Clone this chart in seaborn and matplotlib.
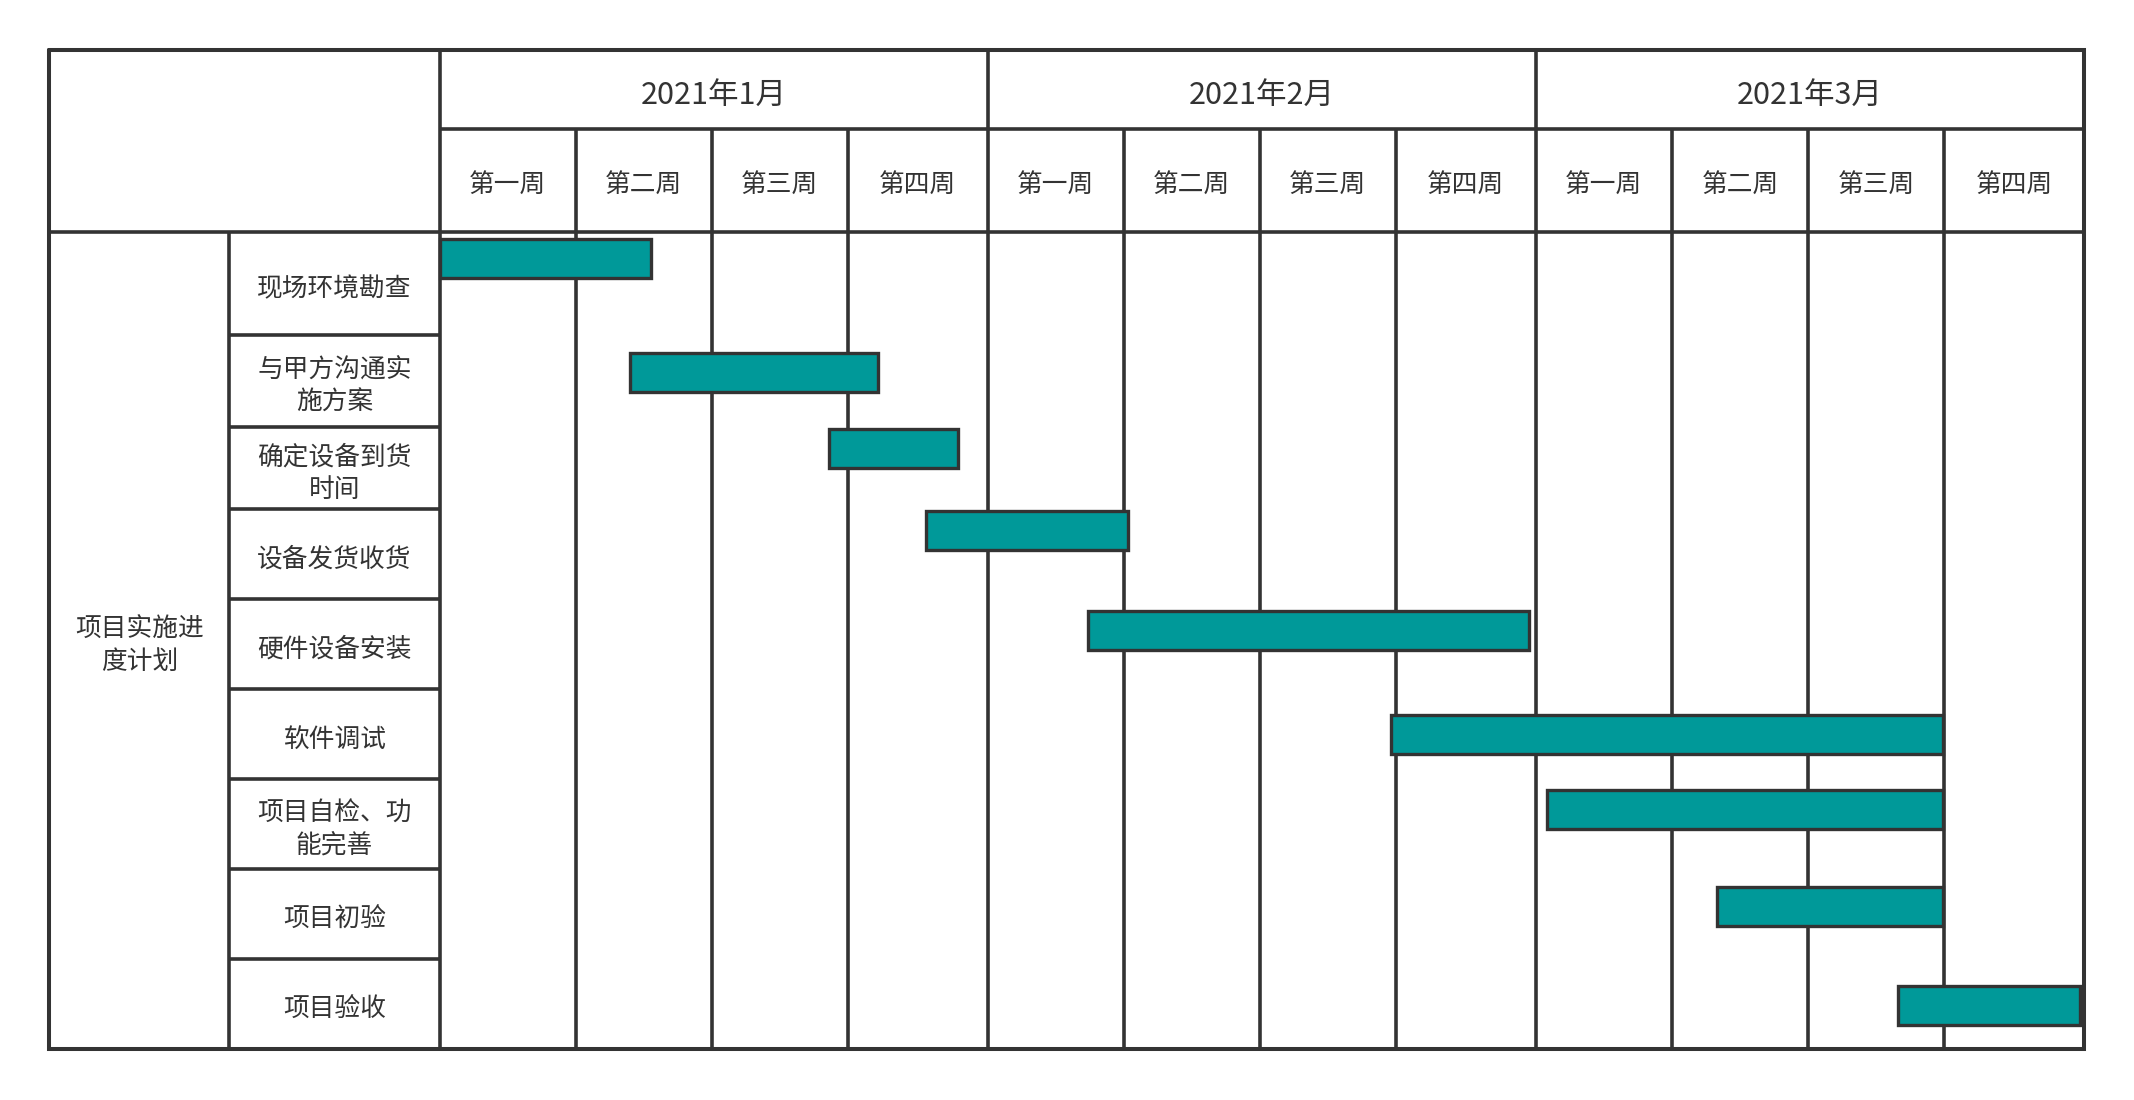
import matplotlib
matplotlib.use("Agg")
import matplotlib.pyplot as plt
import seaborn as sns

# ---------------- data ----------------
months = ["2021年1月", "2021年2月", "2021年3月"]
weeks = ["第一周", "第二周", "第三周", "第四周"]
group_label = "项目实施进\n度计划"
tasks = ["现场环境勘查", "与甲方沟通实\n施方案", "确定设备到货\n时间", "设备发货收货",
         "硬件设备安装", "软件调试", "项目自检、功\n能完善", "项目初验", "项目验收"]
start_week = [0.0, 1.39, 2.84, 3.55, 4.73, 6.94, 8.08, 9.32, 10.64]
end_week = [1.54, 3.20, 3.78, 5.02, 7.95, 10.97, 10.97, 10.97, 11.97]

# ---------------- style ----------------
sns.set_theme(style="white")
plt.rcParams['font.family'] = ['Noto Sans CJK SC', 'DejaVu Sans']

W, H = 2134, 1100
LC = "#333333"
LW = 2.6
BAR = "#009999"

# layout (pixels of the figure)
x_left, x_c1, x_c2, x_right = 49.3, 229.3, 439.6, 2084.0
y_top, y_month, y_head, y_bot = 50.0, 129.3, 231.5, 1049.0
row_edges = [231.5, 335.0, 426.5, 509.0, 599.0, 689.0, 778.5, 868.5, 959.0, 1049.0]
bar_centers = [258.5, 372.0, 448.0, 530.0, 630.0, 734.5, 809.0, 906.5, 1005.0]
bar_h = 39.0
week_frac = 0.993  # the last week column of each month is drawn a little wider

fig = plt.figure(figsize=(W / 100, H / 100), dpi=100)
fig.patch.set_facecolor("white")

# left label columns (pixel axes)
axl = fig.add_axes([0, 0, 1, 1])
axl.set_xlim(0, W)
axl.set_ylim(H, 0)
axl.axis("off")

# main gantt axes: x in weeks, y in pixel rows
n_weeks = 4 * len(months)
ax = fig.add_axes([x_c2 / W, 1 - y_bot / H, (x_right - x_c2) / W, (y_bot - y_top) / H])
ax.set_xlim(0, n_weeks)
ax.set_ylim(y_bot, y_top)
ax.axis("off")

# week column edges
edges = []
for m in range(len(months)):
    for k in range(4):
        edges.append(4 * m + k * week_frac)
edges.append(n_weeks)

week_lines = [e for i, e in enumerate(edges[1:-1], start=1) if i % 4 != 0]
month_lines = [edges[i] for i in range(4, n_weeks, 4)]
ax.vlines(week_lines, y_month, y_bot, colors=LC, lw=LW, zorder=1)
ax.vlines(month_lines, y_top, y_bot, colors=LC, lw=LW, zorder=1)
ax.hlines([y_month], 0, n_weeks, colors=LC, lw=LW, zorder=1)

# month and week headers
for i, m in enumerate(months):
    ax.text(4 * i + 2, (y_top + y_month) / 2 + 6, m, ha="center", va="center",
            fontsize=22, color=LC)
for i in range(n_weeks):
    ax.text((edges[i] + edges[i + 1]) / 2, (y_month + y_head) / 2 + 5, weeks[i % 4],
            ha="center", va="center", fontsize=18.5, color=LC)

# bars
ax.barh(bar_centers, [e - s for s, e in zip(start_week, end_week)], left=start_week,
        height=bar_h, color=BAR, edgecolor=LC, linewidth=2.4, zorder=3, clip_on=False)

# left table lines
axl.hlines([y_head], x_left, x_right, colors=LC, lw=LW, zorder=2)
axl.hlines(row_edges[1:-1], x_c1, x_c2, colors=LC, lw=LW, zorder=2)
axl.vlines([x_c1], y_head, y_bot, colors=LC, lw=LW, zorder=2)
axl.vlines([x_c2], y_top, y_bot, colors=LC, lw=LW, zorder=2)
# outer border
axl.plot([x_left, x_right, x_right, x_left, x_left],
         [y_top, y_top, y_bot, y_bot, y_top], color=LC, lw=2.9, zorder=4,
         solid_joinstyle="miter")

# task labels
for i, t in enumerate(tasks):
    yc = (row_edges[i] + row_edges[i + 1]) / 2
    axl.text((x_c1 + x_c2) / 2, yc + 6, t, ha="center", va="center", fontsize=18.5,
             color=LC, linespacing=1.3, multialignment="center")
axl.text((x_left + x_c1) / 2, (y_head + y_bot) / 2 + 6, group_label, ha="center",
         va="center", fontsize=18.5, color=LC, linespacing=1.3, multialignment="center")

fig.savefig("out.png", dpi=100, facecolor="white")
